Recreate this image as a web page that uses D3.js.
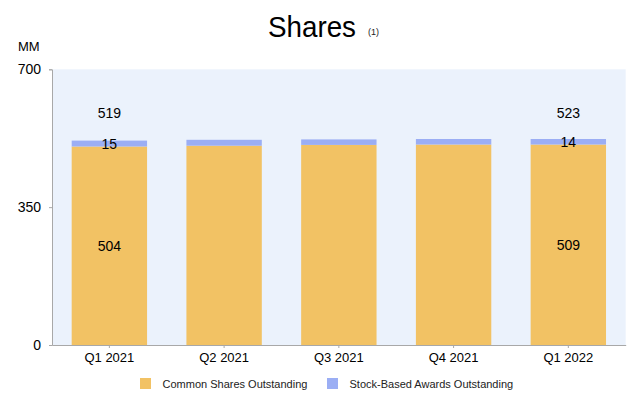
<!DOCTYPE html>
<html>
<head>
<meta charset="utf-8">
<script src="https://cdn.jsdelivr.net/npm/d3@7"></script>
<style>
  html, body { margin: 0; padding: 0; background: #fff; }
  svg { display: block; font-family: "Liberation Sans", Arial, sans-serif; }
</style>
</head>
<body>
<svg id="chart" width="640" height="409"></svg>
<script>
const categories = ["Q1 2021", "Q2 2021", "Q3 2021", "Q4 2021", "Q1 2022"];
const commonShares = [504, 506, 508, 509, 509];
const stockAwards = [15, 15, 14, 14, 14];
const segmentLabels = [true, false, false, false, true];
const seriesNames = ["Common Shares Outstanding", "Stock-Based Awards Outstanding"];
const yTicks = [0, 350, 700];

const colors = ["#F2C264", "#9BAEF4"];
const svg = d3.select("#chart");

const x = d3.scaleBand().domain(categories).range([52, 625.7]).paddingInner(0.343).paddingOuter(0.1715);
const y = d3.scaleLinear().domain([0, 700]).range([345, 69.3]);

// plot background
svg.append("rect").attr("x", 52).attr("y", y(700)).attr("width", 625.7 - 52).attr("height", y(0) - y(700)).attr("fill", "#EBF2FC");

// title
svg.append("text").attr("x", 268).attr("y", 37).attr("font-size", 30).attr("fill", "#000")
  .attr("textLength", 88).attr("lengthAdjust", "spacingAndGlyphs").text("Shares");
svg.append("text").attr("x", 368).attr("y", 34.5).attr("font-size", 9).attr("fill", "#222").text("(1)");
svg.append("text").attr("x", 18).attr("y", 51).attr("font-size", 13).attr("fill", "#000").text("MM");

const rows = categories.map((c, i) => ({ cat: c, common: commonShares[i], awards: stockAwards[i], label: segmentLabels[i] }));
const stack = d3.stack().keys(["common", "awards"])(rows);

svg.append("g").selectAll("g").data(stack).join("g").attr("fill", (d, i) => colors[i])
  .selectAll("rect").data(d => d).join("rect")
  .attr("x", d => x(d.data.cat)).attr("width", x.bandwidth())
  .attr("y", d => y(d[1])).attr("height", d => y(d[0]) - y(d[1]));

// labels
const lbl = svg.append("g").attr("font-size", 14).attr("fill", "#000").attr("text-anchor", "middle");
rows.filter(r => r.label).forEach(r => {
  const cx = x(r.cat) + x.bandwidth() / 2;
  lbl.append("text").attr("x", cx).attr("y", (y(0) + y(r.common)) / 2 + 5).text(r.common);
  lbl.append("text").attr("x", cx).attr("y", (y(r.common) + y(r.common + r.awards)) / 2 + 5).text(r.awards);
  lbl.append("text").attr("x", cx).attr("y", y(577)).text(r.common + r.awards);
});

// axes
const yAxis = svg.append("g").attr("transform", "translate(52,0)")
  .call(d3.axisLeft(y).tickValues(yTicks).tickSize(3).tickPadding(8));
yAxis.selectAll("text").attr("font-size", 14).attr("fill", "#000").attr("font-family", "Liberation Sans, Arial, sans-serif");
yAxis.selectAll("line, path").attr("stroke", "#A8A8A8");

const xAxis = svg.append("g").attr("transform", "translate(0,345)")
  .call(d3.axisBottom(x).tickSize(3).tickSizeOuter(0).tickPadding(5));
xAxis.selectAll("text").attr("font-size", 13).attr("fill", "#000").attr("font-family", "Liberation Sans, Arial, sans-serif");
xAxis.selectAll("line, path").attr("stroke", "#A8A8A8");

// legend
const legendX = [140, 327];
const lg = svg.append("g");
seriesNames.forEach((n, i) => {
  lg.append("rect").attr("x", legendX[i]).attr("y", 378).attr("width", 11).attr("height", 11).attr("fill", colors[i]);
  lg.append("text").attr("x", legendX[i] + 22.5).attr("y", 388).attr("font-size", 11).attr("fill", "#222").text(n);
});
</script>
</body>
</html>
